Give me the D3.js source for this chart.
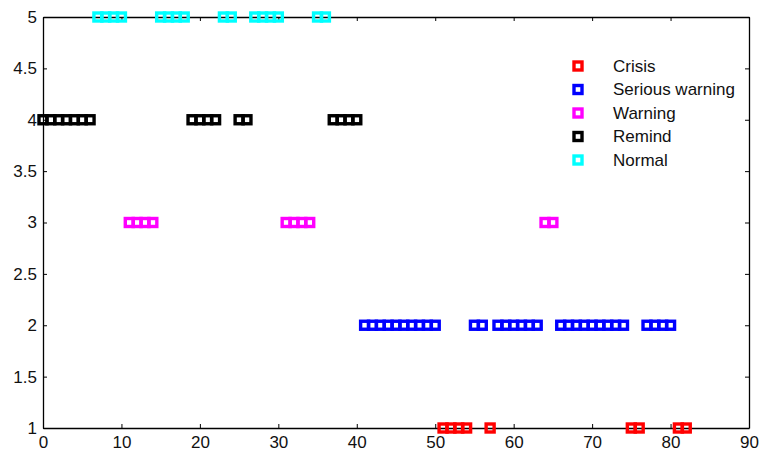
<!DOCTYPE html>
<html>
<head>
<meta charset="utf-8">
<script src="https://cdn.jsdelivr.net/npm/d3@7"></script>
<style>
  body { margin: 0; background: #fff; }
  svg { display: block; font-family: "Liberation Sans", Arial, sans-serif; }
</style>
</head>
<body>
<div id="chart"></div>
<script>
// Sample indices per warning level.
const crisisX = [51, 52, 53, 54, 57, 75, 76, 81, 82];
const seriousX = [41, 42, 43, 44, 45, 46, 47, 48, 49, 50, 55, 56, 58, 59, 60, 61, 62, 63,
  66, 67, 68, 69, 70, 71, 72, 73, 74, 77, 78, 79, 80];
const warningX = [11, 12, 13, 14, 31, 32, 33, 34, 64, 65];
const remindX = [0, 1, 2, 3, 4, 5, 6, 19, 20, 21, 22, 25, 26, 37, 38, 39, 40];
const normalX = [7, 8, 9, 10, 15, 16, 17, 18, 23, 24, 27, 28, 29, 30, 35, 36];

const seriesNames = ["Crisis", "Serious warning", "Warning", "Remind", "Normal"];
const seriesLevels = [1, 2, 3, 4, 5];
const seriesColors = ["#ff0000", "#0000ff", "#ff00ff", "#000000", "#00ffff"];
const xTicks = [0, 10, 20, 30, 40, 50, 60, 70, 80, 90];
const yTicks = [1, 1.5, 2, 2.5, 3, 3.5, 4, 4.5, 5];

const width = 763, height = 454;
const margin = { top: 17, right: 14, bottom: 26, left: 43 };

const svg = d3.select("#chart").append("svg")
  .attr("width", width)
  .attr("height", height);

const x = d3.scaleLinear().domain([0, 90]).range([margin.left, width - margin.right]);
const y = d3.scaleLinear().domain([1, 5]).range([height - margin.bottom, margin.top]);

const fmt = d => String(d);

// Axes box with inward ticks.
const styleAxis = g => {
  g.select(".domain").attr("stroke", "#000").attr("stroke-width", 1.3);
  g.selectAll(".tick line").attr("stroke", "#000");
  g.selectAll(".tick text").attr("fill", "#111").attr("font-size", 17);
};

svg.append("g")
  .attr("transform", `translate(0,${y(1)})`)
  .call(d3.axisBottom(x).tickValues(xTicks).tickFormat(fmt).tickSizeInner(-4).tickSizeOuter(0).tickPadding(8))
  .call(styleAxis);

svg.append("g")
  .attr("transform", `translate(0,${y(5)})`)
  .call(d3.axisTop(x).tickValues(xTicks).tickFormat("").tickSizeInner(-4).tickSizeOuter(0))
  .call(styleAxis);

svg.append("g")
  .attr("transform", `translate(${x(0)},0)`)
  .call(d3.axisLeft(y).tickValues(yTicks).tickFormat(fmt).tickSizeInner(-4).tickSizeOuter(0).tickPadding(6))
  .call(styleAxis);

svg.append("g")
  .attr("transform", `translate(${x(90)},0)`)
  .call(d3.axisRight(y).tickValues(yTicks).tickFormat("").tickSizeInner(-4).tickSizeOuter(0))
  .call(styleAxis);

// Square markers.
const seriesX = [crisisX, seriousX, warningX, remindX, normalX];
const size = 8;

seriesX.forEach((xs, i) => {
  svg.append("g")
    .selectAll("rect")
    .data(xs)
    .join("rect")
      .attr("x", d => x(d) - size / 2)
      .attr("y", y(seriesLevels[i]) - size / 2)
      .attr("width", size)
      .attr("height", size)
      .attr("fill", "none")
      .attr("stroke", seriesColors[i])
      .attr("stroke-width", 3.4);
});

// Legend.
const legend = svg.append("g").attr("transform", "translate(578,66)");
const rows = legend.selectAll("g")
  .data(seriesNames)
  .join("g")
    .attr("transform", (d, i) => `translate(0,${i * 23.5})`);

rows.append("rect")
  .attr("x", -size / 2)
  .attr("y", -size / 2)
  .attr("width", size)
  .attr("height", size)
  .attr("fill", "none")
  .attr("stroke", (d, i) => seriesColors[i])
  .attr("stroke-width", 3.4);

rows.append("text")
  .attr("x", 35)
  .attr("dy", "0.35em")
  .attr("font-size", 17)
  .attr("fill", "#111")
  .text(d => d);
</script>
</body>
</html>
